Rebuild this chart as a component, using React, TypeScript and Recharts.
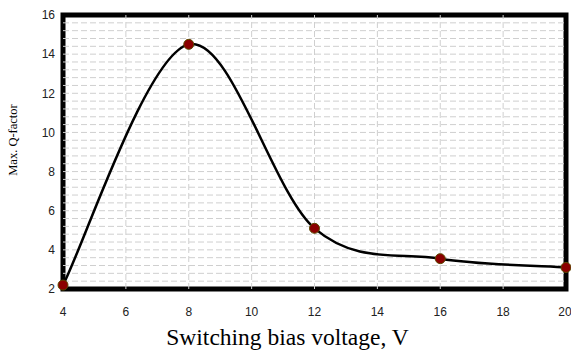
import React from "react";
import { LineChart, Line, XAxis, YAxis, ReferenceLine, ReferenceArea, Label } from "recharts";

const voltages = [4, 8, 12, 16, 20];
const qFactor = [2.2, 14.5, 5.1, 3.55, 3.1];
const xTicks = [4, 6, 8, 10, 12, 14, 16, 18, 20];
const yTicks = [2, 4, 6, 8, 10, 12, 14, 16];
const xGrid = [6, 8, 10, 12, 14, 16, 18];
const yMinorStep = 0.4;

const data = voltages.map((v, i) => ({ v, q: qFactor[i] }));
const yGrid: number[] = [];
for (let k = 1; k < Math.round((16 - 2) / yMinorStep); k++) {
  yGrid.push(+(2 + k * yMinorStep).toFixed(2));
}

// Excel-like smoothed line (uniform Catmull-Rom as cubic Bezier)
function excelCurve(context: any) {
  let pts: number[][] = [];
  return {
    areaStart() {},
    areaEnd() {},
    lineStart() {
      pts = [];
    },
    lineEnd() {
      const n = pts.length;
      if (n === 0) return;
      context.moveTo(pts[0][0], pts[0][1]);
      for (let i = 0; i < n - 1; i++) {
        const p0 = pts[i - 1] || pts[i];
        const p1 = pts[i];
        const p2 = pts[i + 1];
        const p3 = pts[i + 2] || p2;
        context.bezierCurveTo(
          p1[0] + (p2[0] - p0[0]) / 6,
          p1[1] + (p2[1] - p0[1]) / 6,
          p2[0] - (p3[0] - p1[0]) / 6,
          p2[1] - (p3[1] - p1[1]) / 6,
          p2[0],
          p2[1]
        );
      }
    },
    point(x: number, y: number) {
      pts.push([+x, +y]);
    },
  };
}

const tickStyle = { fontSize: 12, fill: "#222", fontFamily: "Liberation Sans, Arial, sans-serif" };

export default function App() {
  return (
    <div style={{ position: "absolute", left: 0, top: 0 }}>
      <LineChart width={571} height={353} data={data} margin={{ top: 15, right: 5, bottom: 0, left: 0 }}>
        <XAxis
          dataKey="v"
          type="number"
          domain={[4, 20]}
          ticks={xTicks}
          tickLine={false}
          axisLine={false}
          tick={tickStyle}
          tickMargin={12}
          height={64}
        >
          <Label
            value="Switching bias voltage, V"
            position="insideBottom"
            offset={8}
            dx={-27}
            style={{ fontSize: 23.5, fill: "#000", fontFamily: "Liberation Serif, Times New Roman, serif" }}
          />
        </XAxis>
        <YAxis
          type="number"
          domain={[2, 16]}
          ticks={yTicks}
          tickLine={false}
          axisLine={false}
          tick={tickStyle}
          width={63}
        >
          <Label
            value="Max. Q-factor"
            angle={-90}
            position="insideLeft"
            offset={13}
            dy={-12}
            style={{ fontSize: 12.5, fill: "#000", fontFamily: "Liberation Serif, Times New Roman, serif", textAnchor: "middle" }}
          />
        </YAxis>
        {yGrid.map((y) => (
          <ReferenceLine key={"h" + y} y={y} stroke="#cfcfcf" strokeDasharray="6 3" strokeWidth={1} />
        ))}
        {xGrid.map((x) => (
          <ReferenceLine key={"v" + x} x={x} stroke="#cfcfcf" strokeDasharray="6 3" strokeWidth={1} />
        ))}
        <ReferenceArea x1={4} x2={20} y1={2} y2={16} fill="none" stroke="#000" strokeWidth={5} ifOverflow="visible" />
        <Line
          dataKey="q"
          type={excelCurve as any}
          stroke="#000"
          strokeWidth={2.5}
          isAnimationActive={false}
          dot={{ r: 5, fill: "#8b0000", stroke: "#5c4a00", strokeWidth: 1, fillOpacity: 1 }}
        />
      </LineChart>
    </div>
  );
}
